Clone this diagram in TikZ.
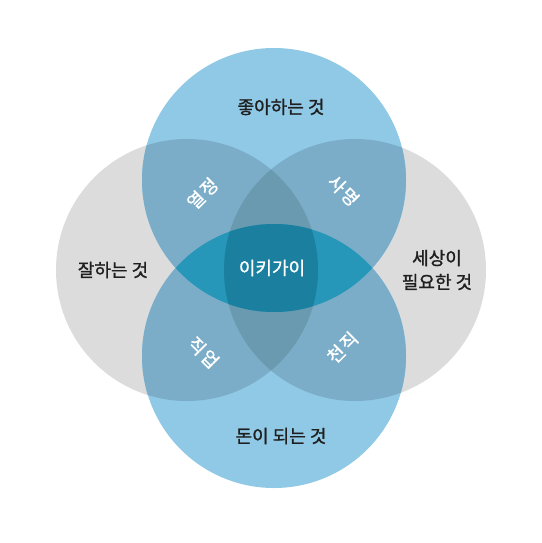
\documentclass[tikz,border=0pt]{standalone}
\usepackage{fontspec}
\setmainfont{Noto Sans CJK KR}[FakeBold=1.2]
\definecolor{grayc}{HTML}{DCDCDC}
\definecolor{bluec}{HTML}{8FC9E6}
\definecolor{bgc}{HTML}{7BADC8}
\definecolor{ggbc}{HTML}{6A9AB0}
\definecolor{bbc}{HTML}{2696B9}
\definecolor{allc}{HTML}{1B7FA0}
\begin{document}
\begin{tikzpicture}[x=1pt,y=-1pt,
  lbl/.style={font=\fontsize{18}{24}\selectfont, text=black!88, align=center, inner sep=0pt},
  wlbl/.style={font=\fontsize{18}{22}\selectfont, text=white, inner sep=0pt}]
\useasboundingbox (0,0) rectangle (541,543);
\fill[white] (0,0) rectangle (541,543);
\def\Top{(274,180) circle[radius=132]}
\def\Bot{(274,356) circle[radius=132]}
\def\Lft{(187,270) circle[radius=131]}
\def\Rgt{(355,270) circle[radius=131]}
% base fills
\fill[grayc] \Lft;
\fill[grayc] \Rgt;
\fill[bluec] \Top;
\fill[bluec] \Bot;
% blue over one gray
\begin{scope}
  \clip \Lft;
  \fill[bgc] \Top; \fill[bgc] \Bot;
\end{scope}
\begin{scope}
  \clip \Rgt;
  \fill[bgc] \Top; \fill[bgc] \Bot;
\end{scope}
% blue over both grays
\begin{scope}
  \clip \Lft; \clip \Rgt;
  \fill[ggbc] \Top; \fill[ggbc] \Bot;
\end{scope}
% blue over blue
\begin{scope}
  \clip \Top;
  \fill[bbc] \Bot;
\end{scope}
% all four
\begin{scope}
  \clip \Top; \clip \Bot; \clip \Lft; \clip \Rgt;
  \fill[allc] (0,0) rectangle (541,543);
\end{scope}
% labels
\node[lbl] (like) at (281,107) {좋아하는 것};
\node[lbl] (good) at (113,270) {잘하는 것};
\node[lbl] (world) at (437,270) {세상이\\필요한 것};
\node[lbl] (money) at (281,436) {돈이 되는 것};
\node[wlbl] (ikigai) at (272,268) {이키가이};
% rotated labels, one syllable per node
\node[wlbl, rotate=45] (passionA) at (196,200) {열};
\node[wlbl, rotate=45] (passionB) at (209,187) {정};
\node[wlbl, rotate=-45] (missionA) at (337,184) {사};
\node[wlbl, rotate=-45] (missionB) at (350,197) {명};
\node[wlbl, rotate=-45] (profA) at (197,346) {직};
\node[wlbl, rotate=-45] (profB) at (210,359) {업};
\node[wlbl, rotate=45] (vocA) at (336,354) {천};
\node[wlbl, rotate=45] (vocB) at (349,341) {직};
\end{tikzpicture}
\end{document}
